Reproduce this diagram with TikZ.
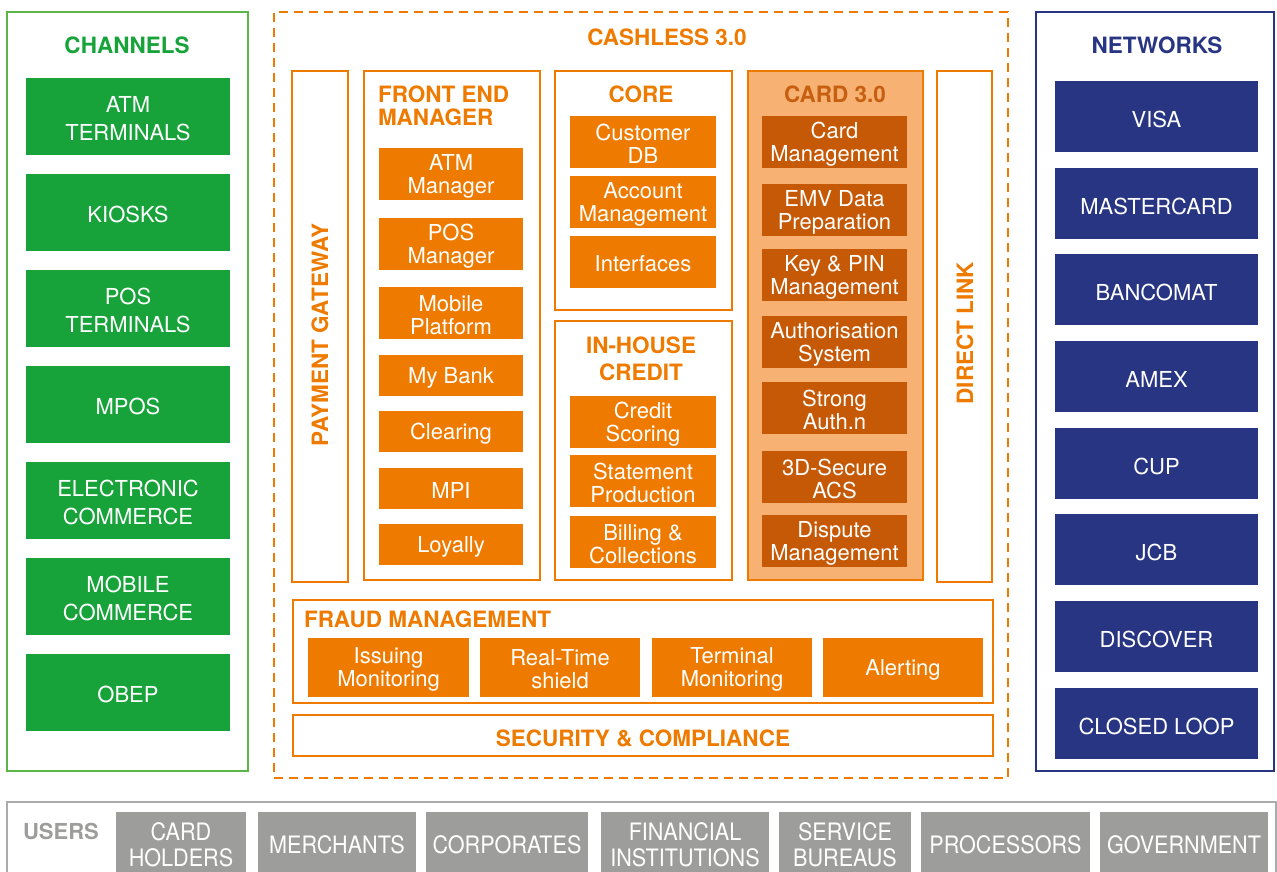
\documentclass[tikz,border=0pt]{standalone}
\usepackage{fontspec}
\setmainfont{TeX Gyre Heros}
\newfontfamily\condfont{TeX Gyre Heros}[FakeStretch=0.9]
\definecolor{grn}{HTML}{17A33A}
\definecolor{grnline}{HTML}{5CB547}
\definecolor{org}{HTML}{EE7A00}
\definecolor{cardfill}{HTML}{F6B173}
\definecolor{carddark}{HTML}{C65906}
\definecolor{cardtitle}{HTML}{C65F10}
\definecolor{blu}{HTML}{283583}
\definecolor{gry}{HTML}{9D9D9C}
\definecolor{gryline}{HTML}{ABABAB}
% \bx{name}{box style}{text style}{x1}{y1}{x2}{y2}{text}
\newcommand\bx[8]{%
  \node[#2,minimum width={#6-#4},minimum height={#7-#5}] (#1) at ({(#4+#6)/2},{(#5+#7)/2}) {};
  \node[#3] (#1-t) at (#1.center) {#8};}
\tikzset{
  every node/.style={inner sep=0pt,outer sep=0pt,align=center},
  grnbox/.style={fill=grn},
  blubox/.style={fill=blu},
  orgbox/.style={fill=org},
  darkbox/.style={fill=carddark},
  gbox/.style={fill=gry},
  chantext/.style={text=white,font=\fontsize{22}{28}\selectfont,yshift=-2pt},
  nettext/.style={text=white,font=\fontsize{22}{28}\selectfont,yshift=-3pt},
  orgtext/.style={text=white,font=\fontsize{22}{23}\selectfont,yshift=-2pt},
  usertext/.style={text=white,font=\condfont\fontsize{24}{26}\selectfont},
  frame/.style={draw=org,line width=2.5pt},
  cardframe/.style={draw=org,fill=cardfill,line width=2.5pt},
  cashframe/.style={draw=org,line width=2.5pt,dash pattern=on 9pt off 6pt},
  chanframe/.style={draw=grnline,line width=2.5pt},
  netframe/.style={draw=blu,line width=2.5pt},
  userframe/.style={draw=gryline,line width=2.5pt},
  otitle/.style={text=org,font=\bfseries\fontsize{22.5}{23}\selectfont},
  notext/.style={},
}
\begin{document}
\begin{tikzpicture}[x=1pt,y=-1pt]
\useasboundingbox (0,0) rectangle (1277,872);
% outer frames
\bx{channels}{chanframe}{notext}{7}{12}{248}{771}{}
\bx{cashless}{cashframe}{notext}{274}{12}{1008}{778}{}
\bx{networks}{netframe}{notext}{1036}{12}{1274}{771}{}
\bx{users}{userframe}{notext}{7}{802}{1276}{900}{}
% channels
\node[text=grn,font=\bfseries\fontsize{22.5}{24}\selectfont] (chT) at (127,45) {CHANNELS};
\bx{ch1}{grnbox}{chantext}{26}{78}{230}{155}{ATM\\TERMINALS}
\bx{ch2}{grnbox}{chantext}{26}{174}{230}{251}{KIOSKS}
\bx{ch3}{grnbox}{chantext}{26}{270}{230}{347}{POS\\TERMINALS}
\bx{ch4}{grnbox}{chantext}{26}{366}{230}{443}{MPOS}
\bx{ch5}{grnbox}{chantext}{26}{462}{230}{539}{ELECTRONIC\\COMMERCE}
\bx{ch6}{grnbox}{chantext}{26}{558}{230}{635}{MOBILE\\COMMERCE}
\bx{ch7}{grnbox}{chantext}{26}{654}{230}{731}{OBEP}
% networks
\node[text=blu,font=\bfseries\fontsize{22.5}{24}\selectfont] (nwT) at (1157,45) {NETWORKS};
\bx{nw1}{blubox}{nettext}{1055}{81}{1258}{152}{VISA}
\bx{nw2}{blubox}{nettext}{1055}{168}{1258}{239}{MASTERCARD}
\bx{nw3}{blubox}{nettext}{1055}{254}{1258}{325}{BANCOMAT}
\bx{nw4}{blubox}{nettext}{1055}{341}{1258}{412}{AMEX}
\bx{nw5}{blubox}{nettext}{1055}{428}{1258}{499}{CUP}
\bx{nw6}{blubox}{nettext}{1055}{514}{1258}{585}{JCB}
\bx{nw7}{blubox}{nettext}{1055}{601}{1258}{672}{DISCOVER}
\bx{nw8}{blubox}{nettext}{1055}{688}{1258}{759}{CLOSED LOOP}
% cashless
\node[otitle] (csT) at (667,37) {CASHLESS 3.0};
\bx{pg}{frame}{notext}{292}{71}{348}{582}{}
\node[otitle,rotate=90] (pgT) at (320,335) {PAYMENT GATEWAY};
\bx{dl}{frame}{notext}{937}{71}{992}{582}{}
\node[otitle,rotate=90] (dlT) at (965,333) {DIRECT LINK};
% front end manager
\bx{fem}{frame}{notext}{364}{71}{540}{580}{}
\node[otitle,anchor=west,align=left] (femT) at (378,106) {FRONT END\\MANAGER};
\bx{fe1}{orgbox}{orgtext}{379}{148}{523}{200}{ATM\\Manager}
\bx{fe2}{orgbox}{orgtext}{379}{218}{523}{270}{POS\\Manager}
\bx{fe3}{orgbox}{orgtext}{379}{287}{523}{339}{Mobile\\Platform}
\bx{fe4}{orgbox}{orgtext}{379}{355}{523}{396}{My Bank}
\bx{fe5}{orgbox}{orgtext}{379}{411}{523}{452}{Clearing}
\bx{fe6}{orgbox}{orgtext}{379}{468}{523}{509}{MPI}
\bx{fe7}{orgbox}{orgtext}{379}{524}{523}{565}{Loyally}
% core
\bx{core}{frame}{notext}{555}{71}{732}{310}{}
\node[otitle] (coreT) at (641,94) {CORE};
\bx{co1}{orgbox}{orgtext}{570}{116}{716}{168}{Customer\\DB}
\bx{co2}{orgbox}{orgtext}{570}{176}{716}{228}{Account\\Management}
\bx{co3}{orgbox}{orgtext}{570}{236}{716}{288}{Interfaces}
% in-house credit
\bx{ihc}{frame}{notext}{555}{321}{732}{580}{}
\node[otitle,font=\bfseries\fontsize{22.5}{27}\selectfont] (ihcT) at (641,359) {IN-HOUSE\\CREDIT};
\bx{ih1}{orgbox}{orgtext}{570}{396}{716}{448}{Credit\\Scoring}
\bx{ih2}{orgbox}{orgtext}{570}{455}{716}{507}{Statement\\Production}
\bx{ih3}{orgbox}{orgtext}{570}{516}{716}{568}{Billing \&\\Collections}
% card 3.0
\bx{card}{cardframe}{notext}{748}{71}{923}{580}{}
\node[otitle,text=cardtitle] (cardT) at (835,94) {CARD 3.0};
\bx{cd1}{darkbox}{orgtext}{762}{116}{907}{168}{Card\\Management}
\bx{cd2}{darkbox}{orgtext}{762}{184}{907}{236}{EMV Data\\Preparation}
\bx{cd3}{darkbox}{orgtext}{762}{249}{907}{301}{Key \& PIN\\Management}
\bx{cd4}{darkbox}{orgtext}{762}{316}{907}{368}{Authorisation\\System}
\bx{cd5}{darkbox}{orgtext}{762}{382}{907}{434}{Strong\\Auth.n}
\bx{cd6}{darkbox}{orgtext}{762}{451}{907}{503}{3D-Secure\\ACS}
\bx{cd7}{darkbox}{orgtext}{762}{515}{907}{567}{Dispute\\Management}
% fraud
\bx{fraud}{frame}{notext}{293}{600}{993}{703}{}
\node[otitle,anchor=west] (frT) at (304,619) {FRAUD MANAGEMENT};
\bx{fr1}{orgbox}{orgtext}{308}{638}{469}{697}{Issuing\\Monitoring}
\bx{fr2}{orgbox}{orgtext}{480}{638}{640}{697}{Real-Time\\shield}
\bx{fr3}{orgbox}{orgtext}{652}{638}{812}{697}{Terminal\\Monitoring}
\bx{fr4}{orgbox}{orgtext}{823}{638}{983}{697}{Alerting}
% security
\bx{sec}{frame}{notext}{293}{715}{993}{756}{}
\node[otitle] (secT) at (643,738) {SECURITY \& COMPLIANCE};
% users
\node[text=gry,font=\bfseries\fontsize{22}{24}\selectfont] (usT) at (61,831) {USERS};
\bx{us1}{gbox}{usertext}{116}{812}{246}{878}{CARD\\HOLDERS}
\bx{us2}{gbox}{usertext}{258}{812}{416}{878}{MERCHANTS}
\bx{us3}{gbox}{usertext}{426}{812}{588}{878}{CORPORATES}
\bx{us4}{gbox}{usertext}{601}{812}{769}{878}{FINANCIAL\\INSTITUTIONS}
\bx{us5}{gbox}{usertext}{779}{812}{911}{878}{SERVICE\\BUREAUS}
\bx{us6}{gbox}{usertext}{921}{812}{1090}{878}{PROCESSORS}
\bx{us7}{gbox}{usertext}{1100}{812}{1268}{878}{GOVERNMENT}
\end{tikzpicture}
\end{document}
